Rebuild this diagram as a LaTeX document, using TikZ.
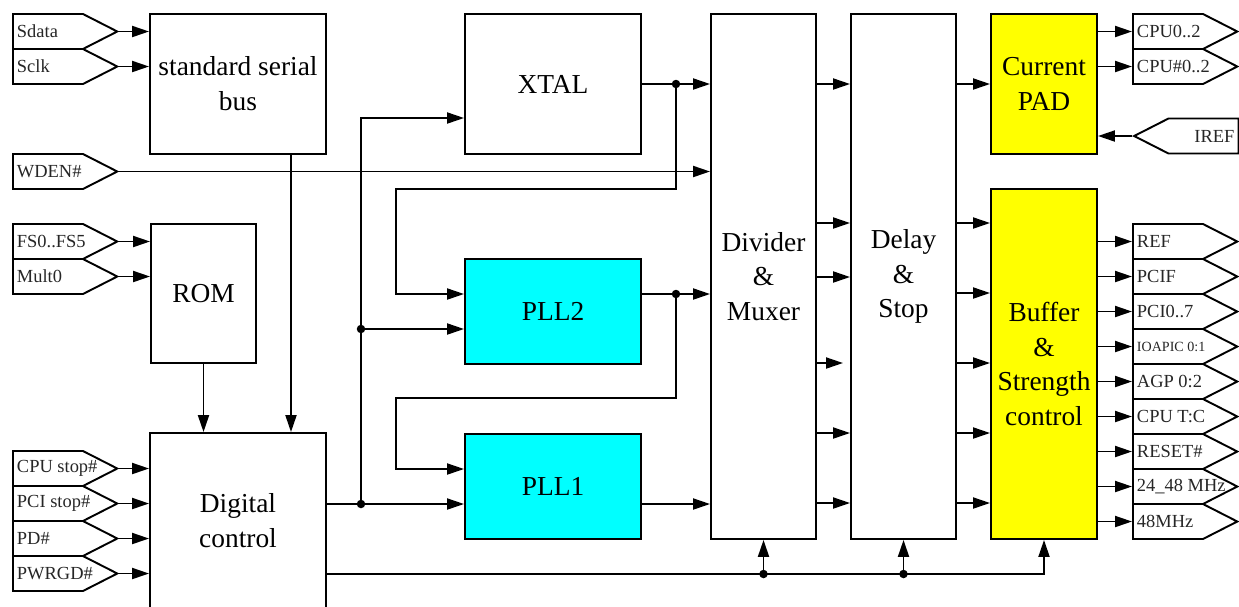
\documentclass[tikz,border=0pt]{standalone}
\usepackage{fontspec}
\setmainfont{Liberation Serif}
\usetikzlibrary{arrows.meta,positioning,shapes.symbols}

\definecolor{pllcyan}{RGB}{0,255,255}
\definecolor{bufyellow}{RGB}{255,255,0}

\begin{document}
\begin{tikzpicture}[
  x=0.02cm, y=-0.02cm,
  blk/.style={draw, line width=1.1pt, align=center, inner sep=0pt, font={\fontsize{15.6}{19.8}\selectfont}},
  pin/.style={signal, draw, line width=1.1pt, signal pointer angle=54, minimum width=2.08cm, minimum height=0.7cm, inner xsep=0.08cm, inner ysep=0pt, anchor=west, font={\fontsize{10.5}{12}\selectfont}, text=black!85},
  pinin/.style={pin, signal to=east},
  pinback/.style={pin, signal to=west},
  arr/.style={line width=1.1pt, -{Triangle[length=0.34cm,width=0.22cm]}},
  wire/.style={line width=1.1pt}
]
\useasboundingbox (0,0) rectangle (1239,606);

% blocks
\node[blk, minimum width=3.52cm, minimum height=2.8cm] (ssb) at (238,84) {standard serial\\bus};
\node[blk, minimum width=2.1cm, minimum height=2.78cm] (rom) at (203.5,293.5) {ROM};
\node[blk, minimum width=3.52cm, minimum height=3.52cm] (digital) at (238,521) {Digital\\control};
\node[blk, minimum width=3.52cm, minimum height=2.8cm] (xtal) at (553,84) {XTAL};
\node[blk, fill=pllcyan, minimum width=3.52cm, minimum height=2.1cm] (pll2) at (553,311.5) {PLL2};
\node[blk, fill=pllcyan, minimum width=3.52cm, minimum height=2.1cm] (pll1) at (553,486.5) {PLL1};
\node[blk, minimum width=2.1cm, minimum height=10.5cm] (divider) at (763.5,276.5) {Divider\\\&\\Muxer};
\node[blk, minimum width=2.1cm, minimum height=10.5cm] (delay) at (903.5,276.5) {Delay\\\&\\Stop};
\node[blk, fill=bufyellow, minimum width=2.12cm, minimum height=2.8cm] (pad) at (1044,84) {Current\\PAD};
\node[blk, fill=bufyellow, minimum width=2.12cm, minimum height=7cm] (buffer) at (1044,364) {Buffer\\\&\\Strength\\control};

% input pins
\foreach \n/\t/\y in {sdata/Sdata/31.5, sclk/Sclk/66.5, wden/WDEN\#/171.5, fs/FS0..FS5/241.5, mult/Mult0/276.5,
    cpustop/CPU stop\#/468.5, pcistop/PCI stop\#/503.5, pd/PD\#/538.5, pwrgd/PWRGD\#/573.5}
  \node[pinin] (\n) at (12,\y) {\makebox[1.24cm][l]{\t}};

\foreach \n/\b in {sdata/ssb, sclk/ssb, fs/rom, mult/rom, cpustop/digital, pcistop/digital, pd/digital, pwrgd/digital}
  \draw[arr] (\n.east) -- (\b.west |- \n.east);
\draw[arr] (wden.east) -- (divider.west |- wden.east);

% output pins
\node[pinin] (cpu) at (1132,31.5) {\makebox[1.24cm][l]{CPU0..2}};
\node[pinin] (cpun) at (1132,66.5) {\makebox[1.24cm][l]{CPU\#0..2}};
\node[pinback] (iref) at (1132,136) {\makebox[1.24cm][r]{IREF}};
\foreach \n/\t [count=\i] in {ref/REF, pcif/PCIF, pci/PCI0..7, ioapic/{\fontsize{8}{9}\selectfont IOAPIC 0:1},
    agp/AGP 0:2, cputc/CPU T:C, reset/RESET\#, mhza/24\_48 MHz, mhzb/48MHz}
  \node[pinin] (\n) at (1132,{206.5+35*\i}) {\makebox[1.24cm][l]{\t}};

\foreach \n in {cpu, cpun, ref, pcif, pci, ioapic, agp, cputc, reset, mhza, mhzb}
  \draw[arr] (\n.west -| pad.east) -- (\n.west);
\draw[arr] (iref.west) -- (pad.east |- iref.west);

% junctions
\coordinate (xj) at (676,84);
\coordinate (pj) at (676,294);
\coordinate (dj1) at (361,504);
\coordinate (dj2) at (361,329);
\coordinate (loopa) at (396,189);
\coordinate (loopb) at (396,398);
\coordinate (bj1) at (763.5,574);
\coordinate (bj2) at (903.5,574);
\coordinate (dmfree) at (843,363);

% serial bus and ROM into digital control
\draw[arr] ([xshift=1.06cm]ssb.south) -- ([xshift=1.06cm]digital.north);
\draw[arr] (rom.south) -- (rom.south |- digital.north);

% digital control to clocks
\draw[arr] (digital.east |- dj1) -- (pll1.west |- dj1);
\draw[arr] (dj1) |- (xtal.west |- 0,118);
\draw[arr] (dj2) -- (pll2.west |- dj2);

% XTAL and PLLs
\draw[wire] (xtal.east) -- (xj);
\draw[arr] (xj) -- (divider.west |- xj);
\draw[arr] (xj) |- (loopa) |- (pll2.west |- pj);
\draw[wire] (pll2.east |- pj) -- (pj);
\draw[arr] (pj) -- (divider.west |- pj);
\draw[arr] (pj) |- (loopb) |- (pll1.west |- 0,469);
\draw[arr] (pll1.east |- dj1) -- (divider.west |- dj1);

% divider to delay to outputs
\foreach \y in {84,223,277,433,503}
  \draw[arr] (divider.east |- 0,\y) -- (delay.west |- 0,\y);
\draw[arr] (divider.east |- dmfree) -- (dmfree);
\draw[arr] (delay.east |- xj) -- (pad.west |- xj);
\foreach \y in {223,293,363,433,503}
  \draw[arr] (delay.east |- 0,\y) -- (buffer.west |- 0,\y);

% control bus
\draw[arr] (digital.east |- bj1) -| (buffer.south);
\draw[arr] (bj1) -- (divider.south);
\draw[arr] (bj2) -- (delay.south);

\foreach \c in {xj, pj, dj1, dj2, bj1, bj2}
  \fill (\c) circle (0.085cm);

\end{tikzpicture}
\end{document}
